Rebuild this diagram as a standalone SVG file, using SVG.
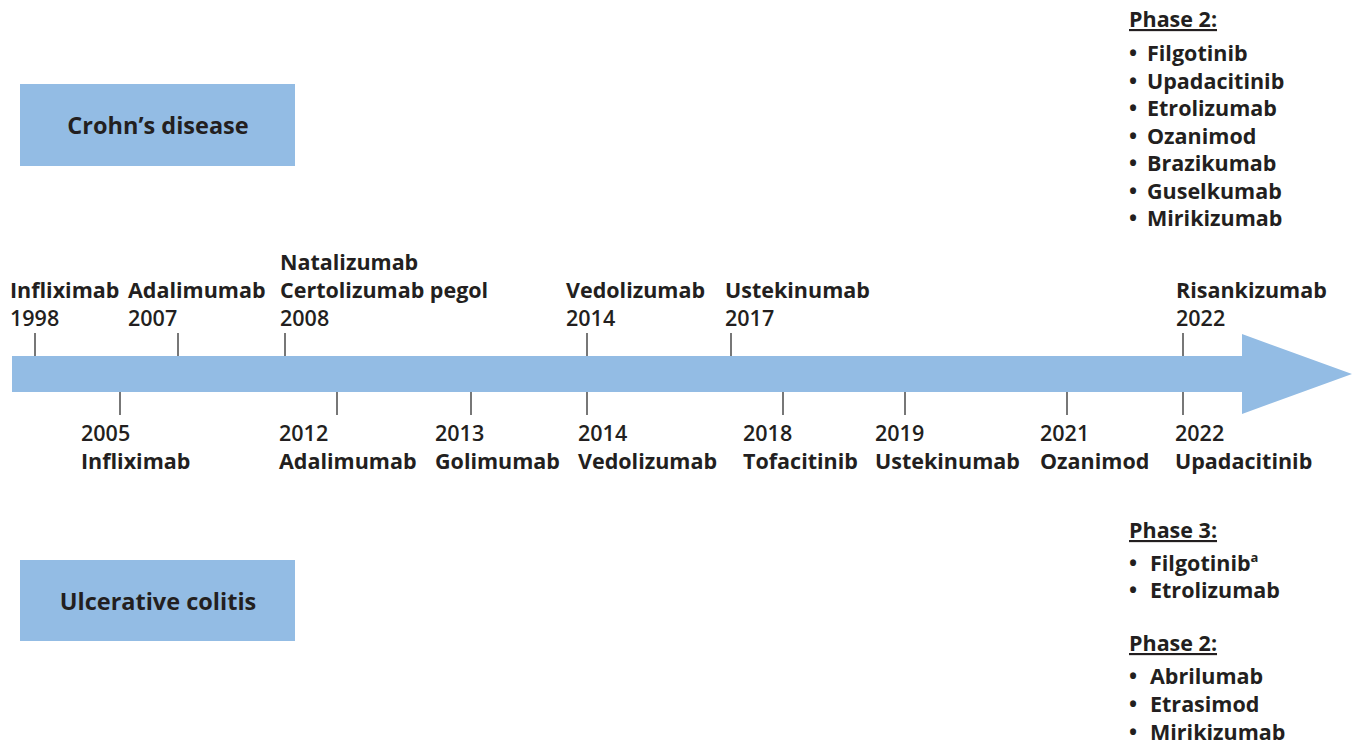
<svg xmlns="http://www.w3.org/2000/svg" width="1360" height="747" viewBox="0 0 1360 747">
<style>
text{font-family:"Open Sans","Liberation Sans",sans-serif;fill:#231f20;font-size:21.5px}
.b{font-weight:700}
.y{font-weight:600}
.box{fill:#93bce4}
.tick{stroke:#555;stroke-width:1.6}
.h{font-weight:700;text-decoration:underline}
.t{font-size:23.5px;font-weight:700;text-anchor:middle}
</style>
<rect width="1360" height="747" fill="#fff"/>
<g id="crohns">
<rect class="box" x="20" y="84" width="275" height="82"/>
<text class="t" x="158" y="134">Crohn’s disease</text>
</g>
<g id="uc">
<rect class="box" x="20" y="560" width="275" height="81"/>
<text class="t" x="158" y="610">Ulcerative colitis</text>
</g>
<g id="timeline">
<polygon class="box" points="12,356 1242,356 1242,334 1352,374 1242,414 1242,392 12,392"/>
</g>
<g id="connectors">
<line class="tick" x1="35" y1="333" x2="35" y2="356"/>
<line class="tick" x1="178" y1="333" x2="178" y2="356"/>
<line class="tick" x1="285" y1="333" x2="285" y2="356"/>
<line class="tick" x1="587" y1="333" x2="587" y2="356"/>
<line class="tick" x1="731" y1="333" x2="731" y2="356"/>
<line class="tick" x1="1183" y1="333" x2="1183" y2="356"/>
<line class="tick" x1="120" y1="392" x2="120" y2="415"/>
<line class="tick" x1="337" y1="392" x2="337" y2="415"/>
<line class="tick" x1="471" y1="392" x2="471" y2="415"/>
<line class="tick" x1="587" y1="392" x2="587" y2="415"/>
<line class="tick" x1="783" y1="392" x2="783" y2="415"/>
<line class="tick" x1="905" y1="392" x2="905" y2="415"/>
<line class="tick" x1="1067" y1="392" x2="1067" y2="415"/>
<line class="tick" x1="1183" y1="392" x2="1183" y2="415"/>
</g>
<g id="cd-labels">
<text class="b" x="10" y="298">Infliximab</text><text class="y" x="10" y="326">1998</text>
<text class="b" x="128" y="298">Adalimumab</text><text class="y" x="128" y="326">2007</text>
<text class="b" x="280" y="270">Natalizumab</text><text class="b" x="280" y="298">Certolizumab pegol</text><text class="y" x="280" y="326">2008</text>
<text class="b" x="566" y="298">Vedolizumab</text><text class="y" x="566" y="326">2014</text>
<text class="b" x="725" y="298">Ustekinumab</text><text class="y" x="725" y="326">2017</text>
<text class="b" x="1176" y="298">Risankizumab</text><text class="y" x="1176" y="326">2022</text>
</g>
<g id="uc-labels">
<text class="y" x="81" y="441">2005</text><text class="b" x="81" y="469">Infliximab</text>
<text class="y" x="279" y="441">2012</text><text class="b" x="279" y="469">Adalimumab</text>
<text class="y" x="435" y="441">2013</text><text class="b" x="435" y="469">Golimumab</text>
<text class="y" x="578" y="441">2014</text><text class="b" x="578" y="469">Vedolizumab</text>
<text class="y" x="743" y="441">2018</text><text class="b" x="743" y="469">Tofacitinib</text>
<text class="y" x="875" y="441">2019</text><text class="b" x="875" y="469">Ustekinumab</text>
<text class="y" x="1040" y="441">2021</text><text class="b" x="1040" y="469">Ozanimod</text>
<text class="y" x="1175" y="441">2022</text><text class="b" x="1175" y="469">Upadacitinib</text>
</g>
<g id="cd-pipeline">
<text class="h" x="1129" y="27">Phase 2:</text>
<text class="b" y="61"><tspan x="1129">•</tspan><tspan x="1147">Filgotinib</tspan></text>
<text class="b" y="89"><tspan x="1129">•</tspan><tspan x="1147">Upadacitinib</tspan></text>
<text class="b" y="116"><tspan x="1129">•</tspan><tspan x="1147">Etrolizumab</tspan></text>
<text class="b" y="144"><tspan x="1129">•</tspan><tspan x="1147">Ozanimod</tspan></text>
<text class="b" y="171"><tspan x="1129">•</tspan><tspan x="1147">Brazikumab</tspan></text>
<text class="b" y="199"><tspan x="1129">•</tspan><tspan x="1147">Guselkumab</tspan></text>
<text class="b" y="226"><tspan x="1129">•</tspan><tspan x="1147">Mirikizumab</tspan></text>
</g>
<g id="uc-pipeline">
<text class="h" x="1129" y="538">Phase 3:</text>
<text class="b" y="571"><tspan x="1129">•</tspan><tspan x="1150">Filgotinib</tspan><tspan font-size="13" dy="-9">a</tspan></text>
<text class="b" y="598"><tspan x="1129">•</tspan><tspan x="1150">Etrolizumab</tspan></text>
<text class="h" x="1129" y="651">Phase 2:</text>
<text class="b" y="684"><tspan x="1129">•</tspan><tspan x="1150">Abrilumab</tspan></text>
<text class="b" y="712"><tspan x="1129">•</tspan><tspan x="1150">Etrasimod</tspan></text>
<text class="b" y="740"><tspan x="1129">•</tspan><tspan x="1150">Mirikizumab</tspan></text>
</g>
</svg>
